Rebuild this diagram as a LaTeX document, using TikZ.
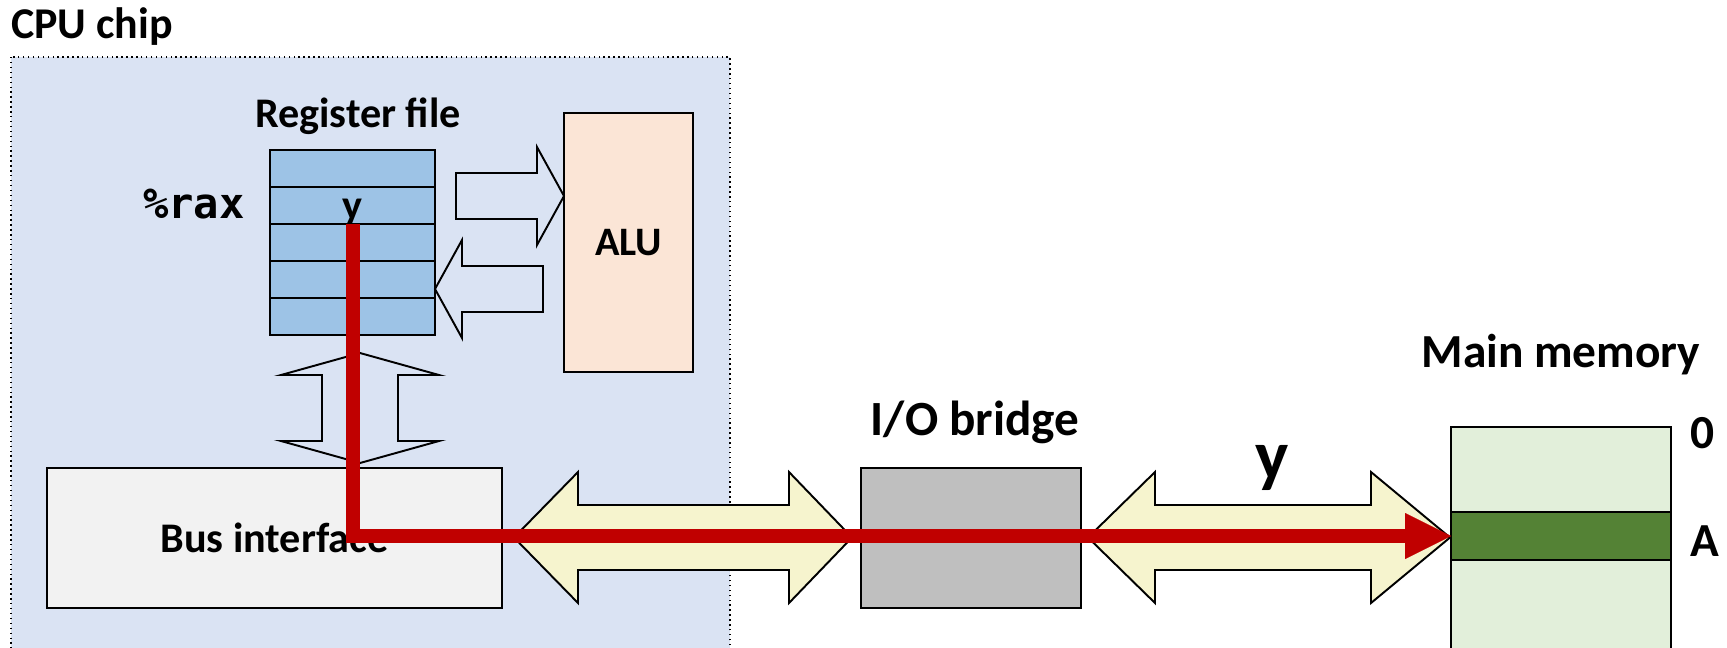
\documentclass[tikz,border=0pt]{standalone}
\usepackage{fontspec}
\setmainfont{Carlito}
\newfontfamily\regfont{DejaVu Sans Mono}
\usetikzlibrary{arrows.meta}
\definecolor{chipblue}{HTML}{DAE3F3}
\definecolor{regblue}{HTML}{9DC3E6}
\definecolor{alupeach}{HTML}{FBE5D6}
\definecolor{busgray}{HTML}{F2F2F2}
\definecolor{bridgegray}{HTML}{BFBFBF}
\definecolor{memgreen}{HTML}{E2EFDA}
\definecolor{cellgreen}{HTML}{548235}
\definecolor{busyellow}{HTML}{F6F4CE}
\definecolor{pathred}{HTML}{C00000}
\begin{document}
\begin{tikzpicture}[x=0.02cm,y=-0.02cm,
  box/.style={draw, line width=1.1pt, inner sep=0pt, outer sep=0pt},
  lbl/.style={font=\bfseries\fontsize{24}{28}\selectfont, inner sep=0pt},
  biglbl/.style={font=\bfseries\fontsize{27}{32}\selectfont, inner sep=0pt},
  hollow/.style={draw, line width=1.1pt, line join=miter},
  busarrow/.style={draw, line width=1.1pt, line join=miter, fill=busyellow}]
\clip (0,0) rectangle (1727,647);
% CPU chip
\draw[fill=chipblue, dotted, line width=0.8pt] (11,57) rectangle (730,700);
\node[lbl, font=\bfseries\fontsize{25}{30}\selectfont, anchor=base west] (chiplbl) at (11,38) {CPU chip};
% register file
\foreach \i in {1,...,5}
  \node[box, fill=regblue, minimum width=3.3cm, minimum height=0.74cm] (r\i) at (352.5,{131.5+37*\i}) {};
\node[lbl, anchor=base] (reglbl) at (358,127) {Register file};
\node[lbl, font=\regfont\bfseries\fontsize{24}{28}\selectfont, anchor=base east] (raxlbl) at (245,218) {\%rax};
\begin{scope}
  \clip (r2.north west) rectangle (r2.south east);
  \node[lbl, anchor=base] (ylbl) at (352.5,219) {y};
\end{scope}
\draw[line width=1.1pt] (r2.south west) -- (r2.south east);
% ALU
\node[box, fill=alupeach, minimum width=2.58cm, minimum height=5.18cm, font=\bfseries\fontsize{23}{28}\selectfont] (alu) at (628.5,242.5) {ALU};
\draw[hollow] (456,173) -- (537,173) -- (537,147) -- (564,196) -- (537,245) -- (537,219) -- (456,219) -- cycle;
\draw[hollow] (543,266) -- (462,266) -- (462,240) -- (435,289) -- (462,338) -- (462,312) -- (543,312) -- cycle;
\draw[hollow] (360,353) -- (439,375) -- (398,375) -- (398,441) -- (439,441) -- (360,463) -- (281,441) -- (322,441) -- (322,375) -- (281,375) -- cycle;
% bus interface
\node[box, fill=busgray, minimum width=9.1cm, minimum height=2.8cm, font=\bfseries\fontsize{24}{28}\selectfont] (bus) at (274.5,538) {Bus interface};
% buses
\draw[busarrow] (514,537.5) -- (578,472) -- (578,505) -- (789,505) -- (789,472) -- (852,537.5) -- (789,603) -- (789,570) -- (578,570) -- (578,603) -- cycle;
\draw[busarrow] (1088,537.5) -- (1155,472) -- (1155,505) -- (1371,505) -- (1371,472) -- (1450,537.5) -- (1371,603) -- (1371,570) -- (1155,570) -- (1155,603) -- cycle;
% I/O bridge
\node[box, fill=bridgegray, minimum width=4.4cm, minimum height=2.8cm] (bridge) at (971,538) {};
\node[biglbl, font=\bfseries\fontsize{28}{33}\selectfont, anchor=base] (bridgelbl) at (975,435) {I/O bridge};
\node[lbl, font=\bfseries\fontsize{40}{48}\selectfont, anchor=base] (buslbl) at (1272,479) {y};
% main memory
\node[box, fill=memgreen, minimum width=4.4cm, minimum height=5.72cm, anchor=north] (mem) at (1561,427) {};
\node[box, fill=cellgreen, minimum width=4.4cm, minimum height=0.96cm] (cellA) at (1561,536) {};
\node[biglbl, anchor=base] (memlbl) at (1561,367) {Main memory};
\node[biglbl, anchor=base west] (zerolbl) at (1690,448) {0};
\node[biglbl, anchor=base west] (addrlbl) at (1690,556) {A};
% data path
\draw[pathred, line width=0.28cm, -{Triangle[length=0.92cm, width=0.92cm, line width=0.01pt]}] (r2.south) |- (cellA.west);
\end{tikzpicture}
\end{document}
